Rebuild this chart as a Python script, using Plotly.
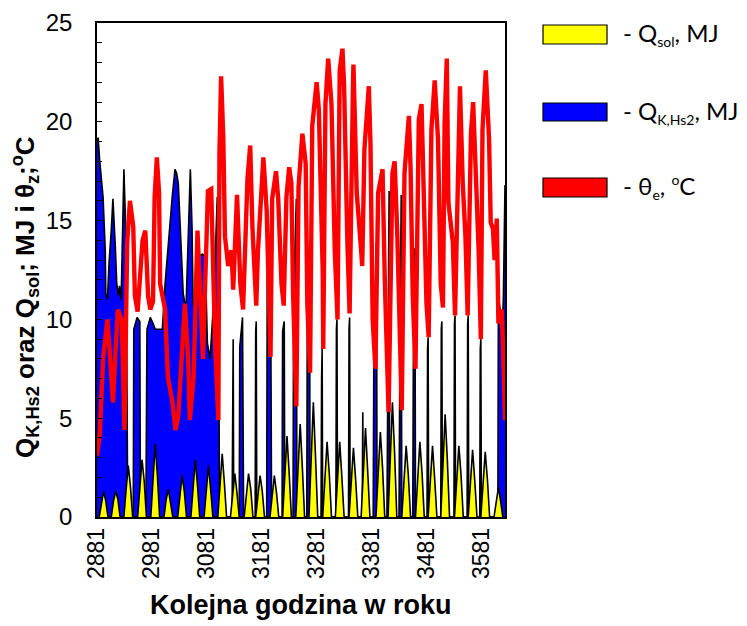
import plotly.graph_objects as go

# ---------------- data ----------------
X_TICKS = [2881, 2981, 3081, 3181, 3281, 3381, 3481, 3581]
Y_TICKS = [0, 5, 10, 15, 20, 25]

# Q_K,Hs2 [MJ] – blue area (breakpoints: hour of year, value)
BLUE_HOURS = [2881, 2883, 2886, 2892, 2896, 2897, 2900, 2903, 2907, 2910, 2914, 2917, 2920, 2922, 2925, 2927, 2930, 2934, 2936, 2937,
              2947, 2948, 2954, 2959, 2960,
              2970, 2972, 2978, 2983, 2987, 2992, 3000, 3005, 3011, 3018, 3023, 3026, 3029, 3034, 3038, 3043, 3047, 3051, 3054, 3056,
              3060, 3065, 3073, 3078, 3082, 3087, 3094, 3100, 3103, 3104,
              3127, 3129, 3130,
              3140, 3141, 3146, 3148,
              3169, 3170, 3171, 3172,
              3190, 3191, 3197, 3199,
              3218, 3219, 3222, 3223,
              3238, 3239, 3244, 3245,
              3263, 3264, 3268, 3269,
              3289, 3290, 3291, 3292,
              3316, 3317, 3318, 3319,
              3339, 3340, 3341, 3342,
              3364, 3365, 3366,
              3384, 3385, 3390, 3391,
              3409, 3410, 3413, 3414,
              3431, 3432, 3435, 3436,
              3456, 3457, 3460, 3461,
              3482, 3483, 3484, 3485,
              3507, 3508, 3509, 3510,
              3531, 3532, 3533, 3534,
              3555, 3556, 3557, 3558,
              3578, 3579, 3580, 3581,
              3611, 3612, 3615, 3619, 3621, 3623, 3624]
BLUE_VALUES = [19.0, 19.2, 18.0, 16.2, 13.5, 11.3, 11.0, 12.9, 14.5, 16.1, 13.9, 11.8, 11.2, 11.7, 11.0, 13.9, 17.6, 13.9, 7.0, 0,
               0, 9.5, 10.1, 9.9, 0,
               0, 9.5, 10.1, 9.8, 9.5, 9.5, 9.5, 11.8, 13.9, 16.2, 17.6, 17.4, 16.9, 13.9, 11.3, 10.5, 13.9, 17.6, 14.7, 10.8,
               10.5, 13.2, 13.3, 13.2, 8.8, 8.0, 11.2, 16.2, 8.0, 0,
               0, 9.0, 0,
               0, 8.6, 10.1, 0,
               0, 9.4, 9.9, 0,
               0, 12.3, 12.9, 0,
               0, 9.4, 9.9, 0,
               0, 11.0, 16.1, 0,
               0, 10.5, 13.9, 0,
               0, 7.0, 8.5, 0,
               0, 9.5, 10.0, 0,
               0, 9.5, 10.1, 0,
               0, 5.3, 0,
               0, 7.3, 13.9, 0,
               0, 5.5, 16.5, 0,
               0, 5.5, 16.3, 0,
               0, 7.5, 13.6, 0,
               0, 8.5, 9.1, 0,
               0, 9.5, 9.9, 0,
               0, 9.8, 10.2, 0,
               0, 9.8, 10.2, 0,
               0, 8.5, 9.0, 0,
               0, 11.2, 10.5, 9.6, 11.0, 15.7, 16.8]

# Q_sol [MJ] – yellow area
SOL_HOURS = [2885, 2889, 2893, 2897, 2901,
             2907, 2911, 2915, 2919, 2923,
             2930, 2934, 2938, 2942, 2946,
             2955, 2959, 2963, 2967, 2971,
             2979, 2983, 2987, 2991, 2995,
             3003, 3007, 3011, 3015, 3019,
             3028, 3032, 3036, 3040, 3044,
             3052, 3056, 3060, 3064, 3068,
             3076, 3080, 3084, 3088, 3092,
             3101, 3105, 3109, 3113, 3117,
             3124, 3128, 3132, 3136, 3140,
             3149, 3153, 3157, 3161, 3165,
             3170, 3174, 3178, 3182, 3186,
             3196, 3200, 3204, 3208, 3212,
             3219, 3223, 3227, 3231, 3235,
             3243, 3247, 3251, 3255, 3259,
             3267, 3271, 3275, 3279, 3283,
             3292, 3296, 3300, 3304, 3308,
             3315, 3319, 3323, 3327, 3331,
             3340, 3344, 3348, 3352, 3356,
             3362, 3366, 3370, 3374, 3378,
             3389, 3393, 3397, 3401, 3405,
             3411, 3415, 3419, 3423, 3427,
             3436, 3440, 3444, 3448, 3452,
             3461, 3465, 3469, 3473, 3477,
             3484, 3488, 3492, 3496, 3500,
             3507, 3511, 3515, 3519, 3523,
             3532, 3536, 3540, 3544, 3548,
             3557, 3561, 3565, 3569, 3573,
             3580, 3584, 3588, 3592, 3596,
             3604, 3608, 3612, 3616, 3620]
SOL_VALUES = [0, 0.7, 1.3, 0.8, 0,
              0, 0.8, 1.3, 0.9, 0,
              0, 1.4, 2.6, 1.5, 0,
              0, 1.6, 2.9, 1.8, 0,
              0, 2.0, 3.7, 2.1, 0,
              0, 0.9, 1.4, 0.8, 0,
              0, 1.2, 2.1, 1.3, 0,
              0, 1.7, 2.9, 1.6, 0,
              0, 1.5, 2.6, 1.4, 0,
              0, 1.9, 3.2, 1.7, 0,
              0, 1.3, 2.2, 1.2, 0,
              0, 1.3, 2.2, 1.4, 0,
              0, 1.2, 2.1, 1.3, 0,
              0, 1.2, 2.1, 1.2, 0,
              0, 2.3, 4.1, 2.2, 0,
              0, 2.6, 4.7, 2.5, 0,
              0, 3.2, 5.8, 3.0, 0,
              0, 2.1, 3.8, 2.2, 0,
              0, 2.2, 3.8, 2.0, 0,
              0, 2.0, 3.5, 1.9, 0,
              0, 2.5, 4.5, 2.3, 0,
              0, 2.4, 4.3, 2.5, 0,
              0, 3.1, 5.8, 3.2, 0,
              0, 2.0, 3.6, 2.1, 0,
              0, 2.1, 3.8, 2.2, 0,
              0, 2.0, 3.6, 1.9, 0,
              0, 2.8, 5.2, 2.9, 0,
              0, 2.0, 3.6, 2.1, 0,
              0, 1.9, 3.4, 1.8, 0,
              0, 1.8, 3.3, 1.9, 0,
              0, 0.9, 1.5, 0.8, 0]

# theta_e [deg C] – red line
RED_HOURS = [2881, 2886, 2892, 2900, 2905, 2910, 2916, 2919, 2926, 2931,
             2936, 2941, 2947, 2950, 2955, 2964, 2969, 2974, 2978, 2983,
             2986, 2990, 2994, 2996, 3005, 3010, 3018, 3024, 3029, 3036,
             3041, 3047, 3050, 3057, 3064, 3069, 3074, 3083, 3089, 3096,
             3102, 3104, 3107, 3111, 3114, 3120, 3126, 3129, 3133, 3136,
             3142, 3147, 3155, 3160, 3164, 3171, 3174, 3180, 3184, 3190,
             3193, 3197, 3200, 3207, 3211, 3217, 3221, 3226, 3231, 3235,
             3238, 3244, 3248, 3255, 3261, 3264, 3269, 3273, 3281, 3285,
             3292, 3293, 3297, 3302, 3308, 3314, 3319, 3323, 3328, 3331,
             3337, 3341, 3347, 3348, 3354, 3359, 3362, 3364, 3368, 3376,
             3379, 3383, 3388, 3393, 3401, 3405, 3412, 3419, 3423, 3428,
             3436, 3441, 3449, 3452, 3456, 3461, 3467, 3472, 3476, 3481,
             3485, 3490, 3496, 3502, 3507, 3511, 3514, 3518, 3521, 3529,
             3533, 3538, 3542, 3547, 3552, 3556, 3562, 3566, 3570, 3576,
             3580, 3583, 3589, 3595, 3598, 3602, 3605, 3609, 3612, 3618,
             3621, 3624]
RED_VALUES = [3.1, 4.2, 8.0, 10.0, 8.0, 5.8, 9.0, 10.5, 10.0, 4.4,
              13.9, 16.0, 14.7, 11.2, 10.4, 14.0, 14.5, 11.2, 10.5, 10.9,
              16.2, 18.2, 16.4, 11.8, 10.5, 7.1, 5.9, 4.4, 5.1, 8.0,
              10.8, 8.0, 4.9, 7.1, 14.5, 11.2, 8.0, 16.5, 16.6, 8.8,
              4.9, 18.4, 22.3, 19.2, 14.2, 12.7, 13.5, 11.5, 15.0, 16.3,
              11.8, 10.5, 17.1, 18.8, 14.7, 10.7, 13.4, 16.6, 18.2, 15.5,
              11.2, 8.1, 16.1, 17.5, 16.1, 11.8, 10.7, 16.2, 17.7, 16.9,
              11.4, 5.6, 16.7, 19.4, 17.9, 10.8, 7.3, 19.8, 22.0, 20.6,
              12.5, 8.5, 20.9, 23.2, 20.9, 13.5, 10.0, 22.6, 23.7, 21.8,
              13.9, 10.3, 21.6, 22.9, 16.4, 14.9, 13.5, 12.7, 18.6, 21.8,
              18.9, 10.0, 7.5, 16.4, 17.6, 12.1, 5.3, 17.4, 18.0, 14.2,
              5.4, 17.4, 20.3, 17.7, 11.2, 7.5, 20.1, 20.9, 15.9, 10.8,
              9.1, 19.6, 22.1, 19.1, 11.8, 10.6, 19.9, 23.2, 15.9, 13.9,
              10.2, 16.7, 21.8, 16.9, 14.2, 10.2, 19.4, 21.0, 18.2, 13.5,
              9.0, 19.6, 22.6, 19.1, 14.9, 14.6, 13.0, 15.1, 9.8, 10.5,
              8.0, 4.9]

SUB = "<sub><span style='font-size:14px'>{}</span></sub>"
SUP = "<sup><span style='font-size:14px'>{}</span></sup>"
LEGEND_LABELS = ["- Q" + SUB.format("sol") + ", MJ",
                 "- Q" + SUB.format("K,Hs2") + ", MJ",
                 "- θ" + SUB.format("e") + ", " + SUP.format("o") + "C"]
LEGEND_COLORS = ["#FFFF00", "#0000FF", "#FF0000"]

# ---------------- figure ----------------
OFF = 8                      # page body margin of the html page
W, H = 747 - OFF, 626 - OFF
L, R, T, B = 97 - OFF, 505 - OFF, 23 - OFF, 517 - OFF  # plot area in figure pixels


def px(xp):
    """screen x pixel -> paper x"""
    return (xp - OFF - L) / (R - L)


def py(yp):
    """screen y pixel -> paper y"""
    return (B - (yp - OFF)) / (B - T)


fig = go.Figure()
fig.add_trace(go.Scatter(x=BLUE_HOURS, y=BLUE_VALUES, mode="lines", fill="tozeroy",
                         fillcolor="#0000FF", line=dict(color="black", width=1.6),
                         showlegend=False, hoverinfo="skip"))
fig.add_trace(go.Scatter(x=SOL_HOURS, y=SOL_VALUES, mode="lines", fill="tozeroy",
                         fillcolor="#FFFF00", line=dict(color="black", width=1.6),
                         showlegend=False, hoverinfo="skip"))
fig.add_trace(go.Scatter(x=RED_HOURS, y=RED_VALUES, mode="lines",
                         line=dict(color="#FF0000", width=4.4),
                         showlegend=False, hoverinfo="skip"))

fig.update_layout(
    width=W, height=H,
    margin=dict(l=L, r=W - R, t=T, b=H - B, pad=0, autoexpand=False),
    paper_bgcolor="white", plot_bgcolor="white",
    font=dict(family="Liberation Sans, Arial, sans-serif", color="black"),
    xaxis=dict(range=[2881, 3624], tickvals=X_TICKS, ticktext=[str(v) for v in X_TICKS],
               tickangle=-90, tickfont=dict(size=23), ticks="", showgrid=False, zeroline=False,
               showline=True, linecolor="black", linewidth=1.5, mirror=True, automargin=False),
    yaxis=dict(range=[0, 25], tickvals=Y_TICKS, tickfont=dict(size=24), ticks="inside", ticklen=5,
               tickcolor="black", showgrid=False, zeroline=False,
               showline=True, linecolor="black", linewidth=1.5, mirror=True,
               ticklabelstandoff=18, automargin=False,
               minor=dict(dtick=1, ticks="inside", ticklen=5, tickcolor="black", showgrid=False)),
)

# axis titles
fig.add_annotation(text="<b>Kolejna godzina w roku</b>", xref="paper", yref="paper",
                   x=0.5, y=py(605), xanchor="center", yanchor="middle", showarrow=False,
                   font=dict(size=27, color="black"))
fig.add_annotation(text="<b>Q<sub>K,Hs2</sub> oraz Q<sub>sol</sub>; MJ i θ<sub>z</sub>;<sup>o</sup>C</b>",
                   xref="paper", yref="paper", x=px(25), y=py(297), xanchor="center", yanchor="middle",
                   textangle=-90, showarrow=False, font=dict(size=26, color="black"))

# custom legend
rects = [(25, 44), (103, 121), (178, 197)]
for (y0, y1), lab, col in zip(rects, LEGEND_LABELS, LEGEND_COLORS):
    fig.add_shape(type="rect", xref="paper", yref="paper", x0=px(543), x1=px(607), y0=py(y1), y1=py(y0),
                  fillcolor=col, line=dict(color="black", width=1.2))
    fig.add_annotation(text=lab, xref="paper", yref="paper", x=px(621), y=py((y0 + y1) / 2),
                       xanchor="left", yanchor="middle", showarrow=False,
                       font=dict(family="Lato, Open Sans, sans-serif", size=24, color="black"))

fig.write_html("out.html")
